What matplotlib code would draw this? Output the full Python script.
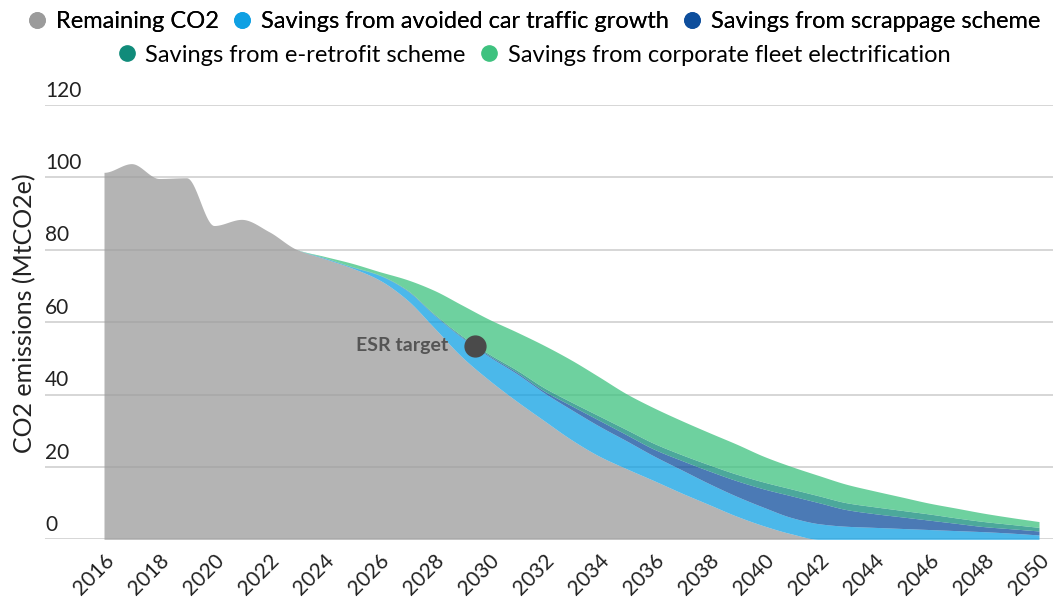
import numpy as np
import matplotlib
matplotlib.use("Agg")
import matplotlib.pyplot as plt
from matplotlib.lines import Line2D
import matplotlib.transforms as mtransforms

plt.rcParams['font.family'] = ['Lato', 'DejaVu Sans']

years = list(range(2016, 2051))

remaining_co2 = [101.4, 103.8, 99.7, 99.9, 86.7, 88.4, 85.0, 80.1, 77.6, 75.0,
                 71.7, 66.3, 58.5, 50.5, 44.0, 38.2, 32.8, 27.5, 23.0, 19.5,
                 16.2, 12.8, 9.6, 6.4, 3.7, 1.5, 0, 0, 0, 0, 0, 0, 0, 0, 0]
avoided_traffic = [0, 0, 0, 0, 0, 0, 0, 0,
                   0.2, 0.3, 1.3, 2.5, 3.5, 5.3, 6.5, 7.6, 7.7, 8.3, 8.3, 7.7,
                   6.8, 6.4, 5.8, 5.5, 5.1, 4.5, 4.3, 3.6, 3.3, 3.0, 2.7, 2.4,
                   2.1, 1.7, 1.2]
scrappage = [0, 0, 0, 0, 0, 0, 0, 0,
             0, 0, 0, 0.1, 0.1, 0.2, 0.3, 0.4, 0.5, 1.1, 1.6, 1.7,
             1.9, 2.6, 3.5, 4.3, 5.1, 6.0, 5.8, 4.6, 3.8, 3.2, 2.6, 2.0,
             1.4, 1.2, 1.1]
e_retrofit = [0, 0, 0, 0, 0, 0, 0, 0,
              0.1, 0.1, 0.1, 0.1, 0.2, 0.3, 0.4, 0.6, 0.9, 1.0, 1.2, 1.4,
              1.6, 1.6, 1.7, 1.8, 1.9, 1.9, 1.9, 1.9, 1.9, 1.8, 1.7, 1.5,
              1.4, 1.2, 1.0]
fleet_electrification = [0, 0, 0, 0, 0, 0, 0, 0,
                         0.3, 0.9, 0.9, 2.8, 6.5, 8.5, 9.6, 10.5, 11.7, 11.6, 10.8, 9.9,
                         9.8, 9.4, 8.9, 8.3, 7.1, 6.2, 5.6, 5.1, 4.4, 3.7, 3.0, 2.7,
                         2.3, 1.9, 1.6]

series_names = ["Remaining CO2", "Savings from avoided car traffic growth",
                "Savings from scrappage scheme", "Savings from e-retrofit scheme",
                "Savings from corporate fleet electrification"]
series_colors = ["#9b9b9b", "#0fa0e3", "#0e4e9c", "#108b7a", "#3ec27f"]

esr_year = 2029.5
esr_value = 53.5
y_ticks = [0, 20, 40, 60, 80, 100, 120]
x_ticks = list(range(2016, 2051, 2))


def pchip(x, y, xs):
    x = np.asarray(x, float)
    y = np.asarray(y, float)
    h = np.diff(x)
    d = np.diff(y) / h
    m = np.zeros_like(y)
    for k in range(1, len(y) - 1):
        if d[k - 1] * d[k] > 0:
            w1 = 2 * h[k] + h[k - 1]
            w2 = h[k] + 2 * h[k - 1]
            m[k] = (w1 + w2) / (w1 / d[k - 1] + w2 / d[k])
    m[0] = d[0] if d[0] * d[1] > 0 else 0
    m[-1] = d[-1] if d[-1] * d[-2] > 0 else 0
    idx = np.clip(np.searchsorted(x, xs) - 1, 0, len(x) - 2)
    t = (xs - x[idx]) / h[idx]
    h00 = 2 * t**3 - 3 * t**2 + 1
    h10 = t**3 - 2 * t**2 + t
    h01 = -2 * t**3 + 3 * t**2
    h11 = t**3 - t**2
    return (h00 * y[idx] + h10 * h[idx] * m[idx]
            + h01 * y[idx + 1] + h11 * h[idx] * m[idx + 1])


fig = plt.figure(figsize=(10.53, 6.01), dpi=100)
ax = fig.add_axes([45 / 1053, (601 - 539.3) / 601, 1 - 45 / 1053, (539.3 - 105) / 601])

all_series = [remaining_co2, avoided_traffic, scrappage, e_retrofit, fleet_electrification]
cum = np.cumsum(np.array(all_series, float), axis=0)
xs = np.linspace(years[0], years[-1], 1400)
lower = np.zeros_like(xs)
for row, col in zip(cum, series_colors):
    upper = np.maximum(pchip(years, row, xs), lower)
    upper = np.clip(upper, 0, None)
    ax.fill_between(xs, lower, upper, color=col, alpha=0.75, linewidth=0, zorder=2)
    lower = upper

px_per_year = (1039 - 104) / 34
ax.set_xlim(2016 - (104 - 45) / px_per_year, 2050 + (1053 - 1039) / px_per_year)
ax.set_ylim(0, 120)

for v in y_ticks:
    ax.axhline(v, color="#cfcfcf", linewidth=1.2, zorder=1)
trans = mtransforms.blended_transform_factory(ax.transAxes, ax.transData)
for v in y_ticks:
    ax.text(0.0, v + 1.2, str(v), transform=trans, ha="left", va="bottom",
            fontsize=15, color="#222222")

ax.set_yticks([])
ax.set_xticks(x_ticks)
ax.set_xticklabels([str(x) for x in x_ticks], rotation=45, ha="right",
                   rotation_mode="anchor", fontsize=15, color="#222222")
ax.tick_params(axis="x", length=0, pad=8)
for s in ax.spines.values():
    s.set_visible(False)

ax.plot([esr_year], [esr_value], "o", color="#4a4a4a", markersize=15, zorder=5)
ax.text(esr_year - 1.0, esr_value, "ESR target", ha="right", va="center",
        fontsize=14, fontweight="bold", color="#555555", zorder=5)

fig.text(25 / 1053, 1 - 313 / 601, "CO2 emissions (MtCO2e)", rotation=90,
         ha="center", va="center", fontsize=18, color="#222222")

handles = [Line2D([0], [0], marker="o", linestyle="", markersize=11,
                  markerfacecolor=c, markeredgecolor=c) for c in series_colors]
leg1 = fig.legend(handles[:3], series_names[:3], loc="center",
                  bbox_to_anchor=(0.506, 1 - 22 / 601), ncol=3, frameon=False,
                  fontsize=17, handletextpad=0.3, columnspacing=0.5,
                  handlelength=1.0, borderaxespad=0)
fig.add_artist(leg1)
leg2 = fig.legend(handles[3:], series_names[3:], loc="center",
                  bbox_to_anchor=(0.506, 1 - 55 / 601), ncol=2, frameon=False,
                  fontsize=17, handletextpad=0.3, columnspacing=0.5,
                  handlelength=1.0, borderaxespad=0)

fig.savefig("out.png", dpi=100)
